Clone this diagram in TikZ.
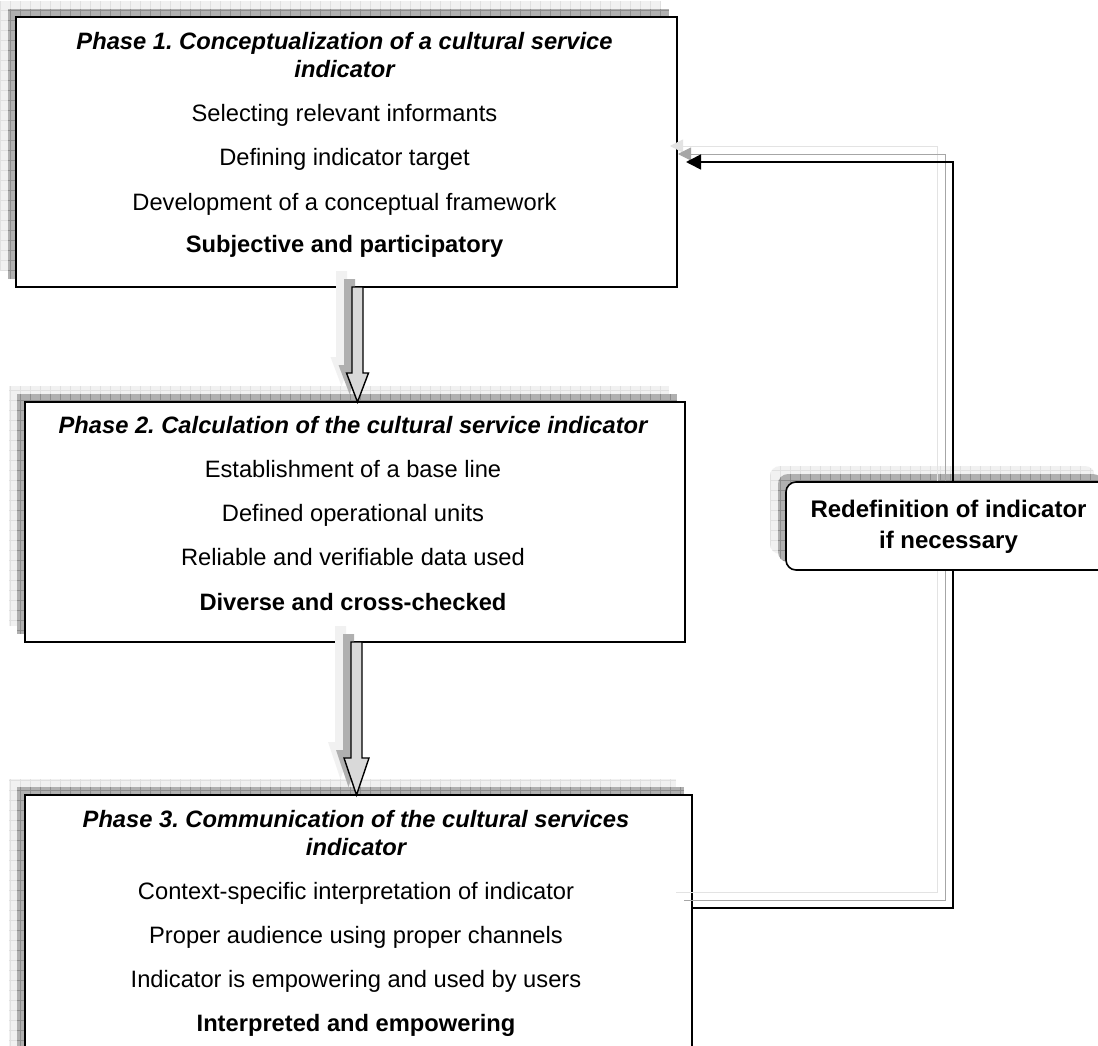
\documentclass[tikz,border=0pt]{standalone}
\usepackage{fontspec}
\setmainfont{Liberation Sans}
\usetikzlibrary{arrows.meta,calc}
\frenchspacing
\definecolor{shdark}{HTML}{B0B0B0}
\definecolor{shdarkgrid}{HTML}{8E8E8E}
\definecolor{shlight}{HTML}{F1F1F1}
\definecolor{shlightgrid}{HTML}{E0E0E0}
\definecolor{arrowfill}{HTML}{D9D9D9}
\newcommand{\shrect}[5]{%
  \begin{scope}
    \clip (#1,#2) rectangle (#3,#4);
    \fill[sh#5] (#1,#2) rectangle (#3,#4);
    \draw[sh#5grid, line width=0.6pt, step=10pt] (#1,#4) grid (#3,#2);
  \end{scope}}
\newcommand{\shround}[5]{%
  \begin{scope}
    \clip[rounded corners=10pt] (#1,#2) rectangle (#3,#4);
    \fill[sh#5] (#1,#2) rectangle (#3,#4);
    \draw[sh#5grid, line width=0.6pt, step=10pt] (#1,#4) grid (#3,#2);
  \end{scope}}
% 1 style, 2 x, 3 from, 4 to, 5 head length, 6 head half width, 7 dx, 8 dy
\newcommand{\blockarr}[8]{%
  \path[#1] let \p1=(#3), \p2=(#4) in
    ({#2-5.5pt+#7},{\y1+#8}) -- ({#2+5.5pt+#7},{\y1+#8}) -- ({#2+5.5pt+#7},{\y2+#5+#8})
    -- ({#2+#6+#7},{\y2+#5+#8}) -- ({#2+#7},{\y2+#8}) -- ({#2-#6+#7},{\y2+#5+#8})
    -- ({#2-5.5pt+#7},{\y2+#5+#8}) -- cycle;}
\begin{document}
\begin{tikzpicture}[x=1pt,y=-1pt,
  phasebox/.style={draw=black, fill=white, line width=1.6pt, inner sep=0pt, outer sep=0pt},
  redefbox/.style={phasebox, rounded corners=10pt},
  txt/.style={font=\fontsize{23.7}{28}\selectfont, inner sep=0pt, anchor=base},
  rtxt/.style={font=\fontsize{24}{30}\selectfont\bfseries, inner sep=0pt, anchor=base},
  conn/.style={draw=black, line width=1.6pt, -{Triangle[length=15pt,width=15pt]}, shorten >=9pt},
  connshdark/.style={draw=gray!70, line width=0.9pt, -{Triangle[length=13pt,width=13pt]}},
  connshlight/.style={draw=gray!22, line width=0.9pt, -{Triangle[length=13pt,width=13pt]}},
  barrow/.style={draw=black, fill=arrowfill, line width=1.4pt, line join=miter},
  barrowshdark/.style={fill=shdark},
  barrowshlight/.style={fill=shlight}]
\useasboundingbox (0,0) rectangle (1098,1046);
\clip (0,0) rectangle (1098,1046);
\fill[white] (0,0) rectangle (1098,1046);

% box shadows
\shrect{0}{1}{661}{271}{light}
\shrect{8}{9}{669}{279}{dark}
\shrect{9}{386}{669}{626}{light}
\shrect{17}{394}{677}{634}{dark}
\shrect{9}{779}{676}{1080}{light}
\shrect{17}{787}{684}{1080}{dark}
\shround{770}{466}{1095}{554}{light}
\shround{778}{474}{1103}{562}{dark}

% phase boxes
\node[phasebox, minimum width=661pt, minimum height=270pt] (p1) at (346.5,152) {};
\node[phasebox, minimum width=660pt, minimum height=240pt] (p2) at (355,522) {};
\node[phasebox, minimum width=667pt, minimum height=285pt] (p3) at (358.5,937.5) {};

% feedback connector with shadows
\coordinate (c1) at (953,908);
\coordinate (c2) at (953,162);
\draw[connshlight] (676,892) -- (937,892) -- (937,146) -- (670,146);
\draw[connshdark] (684,900) -- (945,900) -- (945,154) -- (678,154);
\draw[conn] (p3.east |- c1) -- (c1) -- (c2) -- (p1.east |- c2);

% redefinition box
\node[redefbox, minimum width=325pt, minimum height=88pt] (rd) at (948.5,526) {};

% block arrows between phases
\blockarr{barrowshlight}{357.5pt}{p1.south}{p2.north}{29pt}{11pt}{-16pt}{16pt}
\blockarr{barrowshdark}{357.5pt}{p1.south}{p2.north}{29pt}{11pt}{-8pt}{8pt}
\blockarr{barrow}{357.5pt}{p1.south}{p2.north}{29pt}{11pt}{0pt}{0pt}
\blockarr{barrowshlight}{356.5pt}{p2.south}{p3.north}{37pt}{12.5pt}{-16pt}{16pt}
\blockarr{barrowshdark}{356.5pt}{p2.south}{p3.north}{37pt}{12.5pt}{-8pt}{8pt}
\blockarr{barrow}{356.5pt}{p2.south}{p3.north}{37pt}{12.5pt}{0pt}{0pt}

% texts phase 1
\node[txt] (t1a) at (344.5,50) {\bfseries\itshape Phase 1. Conceptualization of a cultural service};
\node[txt] (t1b) at (344.5,78) {\bfseries\itshape indicator};
\node[txt] (t1c) at (344.5,122) {Selecting relevant informants};
\node[txt] (t1d) at (344.5,166) {Defining indicator target};
\node[txt] (t1e) at (344.5,210) {Development of a conceptual framework};
\node[txt] (t1f) at (344.5,252) {\bfseries Subjective and participatory};

% texts phase 2
\node[txt] (t2a) at (353,433) {\bfseries\itshape Phase 2. Calculation of the cultural service indicator};
\node[txt] (t2b) at (353,477) {Establishment of a base line};
\node[txt] (t2c) at (353,521) {Defined operational units};
\node[txt] (t2d) at (353,565) {Reliable and verifiable data used};
\node[txt] (t2e) at (353,610) {\bfseries Diverse and cross-checked};

% texts phase 3
\node[txt] (t3a) at (356,827) {\bfseries\itshape Phase 3. Communication of the cultural services};
\node[txt] (t3b) at (356,855) {\bfseries\itshape indicator};
\node[txt] (t3c) at (356,899) {Context-specific interpretation of indicator};
\node[txt] (t3d) at (356,943) {Proper audience using proper channels};
\node[txt] (t3e) at (356,987) {Indicator is empowering and used by users};
\node[txt] (t3f) at (356,1031) {\bfseries Interpreted and empowering};

% redefinition text
\node[rtxt] (r1) at (948.5,517) {Redefinition of indicator};
\node[rtxt] (r2) at (948.5,548) {if necessary};
\end{tikzpicture}
\end{document}
